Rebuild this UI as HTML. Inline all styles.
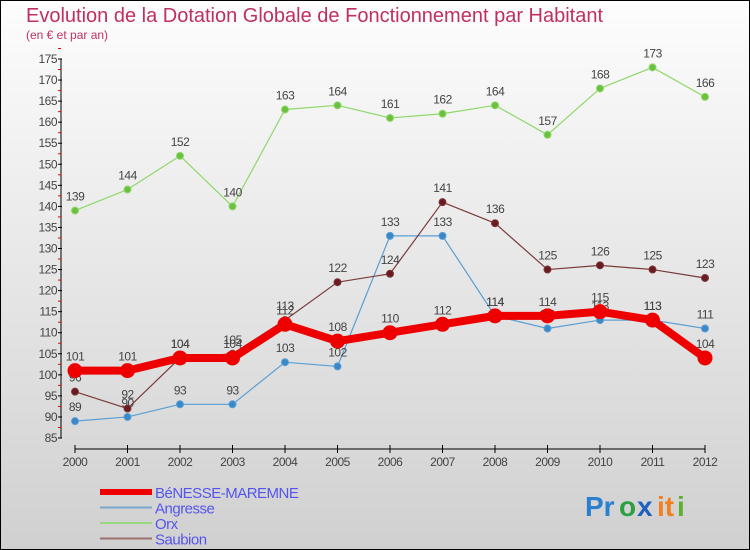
<!DOCTYPE html>
<html><head><meta charset="utf-8"><style>
body{margin:0;width:750px;height:550px;overflow:hidden;font-family:"Liberation Sans",sans-serif}
svg{display:block}
</style></head><body>
<svg id="c" width="750" height="550" xmlns="http://www.w3.org/2000/svg">
<defs><linearGradient id="bg" x1="0" y1="0" x2="0" y2="1"><stop offset="0" stop-color="#fdfdfd"/><stop offset="1" stop-color="#d0d0d0"/></linearGradient></defs>
<rect x="0" y="0" width="750" height="550" fill="url(#bg)"/>
<rect x="0.5" y="0.5" width="749" height="549" fill="none" stroke="#000"/>
<text x="26" y="22" font-size="20" fill="#c0305f">Evolution de la Dotation Globale de Fonctionnement par Habitant</text>
<text x="26" y="39" font-size="12" fill="#c0305f">(en € et par an)</text>
<g id="axes"></g><g id="series"></g><g id="legend"></g>
<g font-size="28" font-weight="bold">
<text x="585" y="516" fill="#2a7fd0">Pr</text><text x="619" y="516" fill="#2aa040">o</text><text x="637" y="516" fill="#2060c0">x</text><text x="657" y="516" fill="#f08020">it</text><text x="677" y="516" fill="#60b030">i</text>
</g>
</svg>
<script>
const years=[2000,2001,2002,2003,2004,2005,2006,2007,2008,2009,2010,2011,2012];
const yTicks=[85,90,95,100,105,110,115,120,125,130,135,140,145,150,155,160,165,170,175];
const benesse=[101,101,104,104,112,108,110,112,114,114,115,113,104];
const angresse=[89,90,93,93,103,102,133,133,114,111,113,113,111];
const orx=[139,144,152,140,163,164,161,162,164,157,168,173,166];
const saubion=[96,92,104,105,113,122,124,141,136,125,126,125,123];
const NS="http://www.w3.org/2000/svg";
const X=i=>75+i*52.5;
const Y=v=>438-(v-85)*(438-59)/90;
function mk(tag,attrs,parent){const e=document.createElementNS(NS,tag);for(const k in attrs)e.setAttribute(k,attrs[k]);parent.appendChild(e);return e;}
const ax=document.getElementById('axes');
let l=mk('line',{x1:61,y1:Y(175),x2:61,y2:Y(85),stroke:'#000'},ax);


yTicks.forEach(v=>{
 let t=mk('line',{x1:58,y1:Y(v),x2:62,y2:Y(v),stroke:'#000'},ax);
 
 
 let m=mk('line',{x1:58,y1:Y(v+2.5),x2:61,y2:Y(v+2.5),stroke:'#e00'},ax);
 
 
 let tx=mk('text',{x:57,y:Y(v)+4,'text-anchor':'end','font-size':12,fill:'#444','letter-spacing':'-0.5'},ax);
 tx.textContent=v;
 
 
});
let xa=mk('line',{x1:X(0),y1:449,x2:X(12),y2:449,stroke:'#000'},ax);


years.forEach((y,i)=>{
 let t=mk('line',{x1:X(i),y1:445,x2:X(i),y2:453,stroke:'#000'},ax);
 
 
 let tx=mk('text',{x:X(i),y:466,'text-anchor':'middle','font-size':12,fill:'#444','letter-spacing':'-0.5'},ax);
 tx.textContent=y;
 
 
});
const sg=document.getElementById('series');
function series(name,data,color,dot,w,r){
 const g=mk('g',{},sg);
 
 
 const p=mk('polyline',{points:data.map((v,i)=>X(i)+','+Y(v)).join(' '),fill:'none',stroke:color,'stroke-width':w,'stroke-linejoin':'round'},g);
 
 
 data.forEach((v,i)=>{
  const c=mk('circle',{cx:X(i),cy:Y(v),r:r,fill:dot,stroke:color,'stroke-width':1},g);
  
  
  const t=mk('text',{x:X(i),y:Y(v)-10,'text-anchor':'middle','font-size':12,fill:'#444','letter-spacing':'-0.5'},g);
  t.textContent=v;
  
  
 });
}
series('orx',orx,'#8fd86a','#6cc040',1.2,3.5);
series('angresse',angresse,'#5a9fd4','#3a88c8',1.2,3.5);
series('saubion',saubion,'#7a3a3a','#6a1a20',1.2,3.5);
series('benesse',benesse,'#ee0000','#ee0000',8,7);
const lg=document.getElementById('legend');
const leg=[['BéNESSE-MAREMNE','#ee0000',6],['Angresse','#7aa8cc',2],['Orx','#99d880',2],['Saubion','#9a7070',2]];
leg.forEach((e,i)=>{
 const y=492+i*15.5;
 const ln=mk('line',{x1:100,y1:y,x2:152,y2:y,stroke:e[1],'stroke-width':e[2]},lg);
 
 
 const t=mk('text',{x:155,y:y+6,'font-size':15,fill:'#5555ee','letter-spacing':'-0.5'},lg);
 t.textContent=e[0];
 
 
});
</script>
</body></html>
